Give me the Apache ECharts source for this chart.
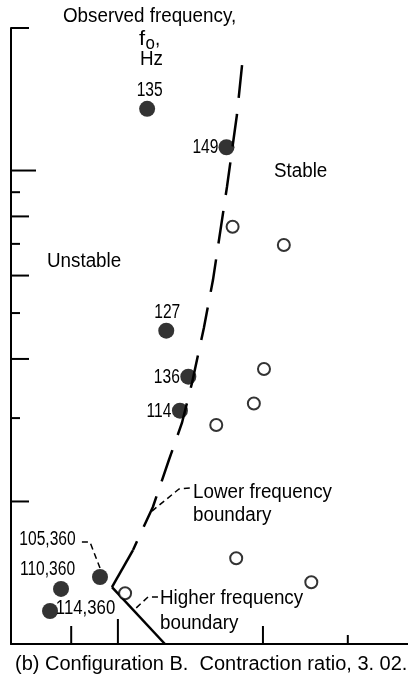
<!DOCTYPE html>
<html>
<head>
<meta charset="utf-8">
<script src="https://cdn.jsdelivr.net/npm/echarts@6/dist/echarts.min.js"></script>
<style>
html,body{margin:0;padding:0;background:#fff;}
#chart{width:408px;height:690px;}
</style>
</head>
<body>
<div id="chart"></div>
<script>
// ---- Data (log-log axes) ----
const xTicks = [8, 10, 20, 30];
const yTicks = [2, 3, 4, 5, 6, 7, 8, 9, 10, 20];

const unstableLabels = ['135', '149', '127', '136', '114', '105,360', '110,360', '114,360'];
const unstableX = [11.5, 16.8, 12.6, 14.0, 13.45, 9.18, 7.62, 7.23];
const unstableY = [13.5, 11.2, 4.59, 3.67, 3.11, 1.385, 1.307, 1.174];

const stableX = [17.3, 22.1, 20.1, 19.15, 16.0, 17.6, 25.2, 10.35];
const stableY = [7.61, 6.96, 3.81, 3.22, 2.90, 1.517, 1.35, 1.28];

const lowerBoundaryX = [18.1, 17.66, 16.84, 15.75, 15.08, 14.25, 13.58, 12.76, 11.82, 11.11, 10.75, 9.72];
const lowerBoundaryY = [16.7, 13.1, 9.23, 5.87, 4.65, 3.56, 2.93, 2.447, 1.947, 1.699, 1.579, 1.319];

const higherBoundaryX = [9.72, 12.52];
const higherBoundaryY = [1.319, 1.0];

const lowerLeaderX = [14.1, 13.39, 11.77];
const lowerLeaderY = [2.136, 2.125, 1.909];
const higherLeaderX = [12.11, 11.55, 10.8];
const higherLeaderY = [1.257, 1.257, 1.18];
const pointLeaderX = [8.42, 8.75, 9.18];
const pointLeaderY = [1.642, 1.642, 1.447];

// ---- helpers ----
const zip = (xs, ys) => xs.map((x, i) => [x, ys[i]]);
const X_MIN = 6, X_MAX = 40, Y_MIN = 1, Y_MAX = 20;
function tickLen(v) {
  const m = Math.round(v / Math.pow(10, Math.floor(Math.log10(v) + 1e-9)));
  if (m === 1) return 25;
  return m % 2 === 0 ? 18 : 9;
}
const FONT = "'Liberation Sans', Arial, sans-serif";

// label offsets relative to each dot centre (layout only)
const labelOffsets = [[2.5, -18], [-21, 0], [1, -18], [-21.5, 1], [-21, 1], [-52.5, -37], [-13.5, -19], [35.5, -2]];
const labelScale = [0.8, 0.8, 0.8, 0.8, 0.8, 0.8, 0.8, 0.86];

const chart = echarts.init(document.getElementById('chart'), null, {renderer: 'canvas'});

const lineBase = {type: 'line', symbol: 'none', silent: true, animation: false, clip: false};

function word(text, x, y, size, sx, extra) {
  return {
    type: 'text', x: x, y: y, scaleX: sx, silent: true,
    style: Object.assign({text: text, fontFamily: FONT, fontSize: size, fill: '#000',
      align: 'left', verticalAlign: 'top'}, extra || {})
  };
}

const option = {
  animation: false,
  backgroundColor: '#fff',
  grid: {left: 11, top: 28, right: 0, bottom: 46},
  xAxis: {
    type: 'log', logBase: 10, min: X_MIN, max: X_MAX,
    axisLine: {show: true, onZero: false, lineStyle: {color: '#000', width: 2}},
    axisTick: {show: false}, axisLabel: {show: false}, splitLine: {show: false}
  },
  yAxis: {
    type: 'log', logBase: 10, min: Y_MIN, max: Y_MAX,
    axisLine: {show: true, onZero: false, lineStyle: {color: '#000', width: 2}},
    axisTick: {show: false}, axisLabel: {show: false}, splitLine: {show: false}
  },
  series: [
    {
      type: 'custom', silent: true, clip: false,
      data: yTicks.map(v => [X_MIN, v]),
      renderItem: (params, api) => {
        const p = api.coord([api.value(0), api.value(1)]);
        const len = tickLen(api.value(1));
        return {type: 'line', shape: {x1: p[0], y1: p[1], x2: p[0] + len, y2: p[1]},
          style: {stroke: '#000', lineWidth: 2}};
      }
    },
    {
      type: 'custom', silent: true, clip: false,
      data: xTicks.map(v => [v, Y_MIN]),
      renderItem: (params, api) => {
        const p = api.coord([api.value(0), api.value(1)]);
        const len = tickLen(api.value(0));
        return {type: 'line', shape: {x1: p[0], y1: p[1], x2: p[0], y2: p[1] - len},
          style: {stroke: '#000', lineWidth: 2}};
      }
    },
    Object.assign({}, lineBase, {
      name: 'Lower frequency boundary',
      data: zip(lowerBoundaryX, lowerBoundaryY).slice(0, -1),
      lineStyle: {color: '#000', width: 2.5, type: [33, 16]}
    }),
    Object.assign({}, lineBase, {
      data: zip(lowerBoundaryX, lowerBoundaryY).slice(-2),
      lineStyle: {color: '#000', width: 2.5}
    }),
    Object.assign({}, lineBase, {
      name: 'Higher frequency boundary',
      data: zip(higherBoundaryX, higherBoundaryY),
      lineStyle: {color: '#000', width: 2.5}
    }),
    Object.assign({}, lineBase, {
      data: zip(lowerLeaderX, lowerLeaderY),
      lineStyle: {color: '#000', width: 1.5, type: [6, 4]}
    }),
    Object.assign({}, lineBase, {
      data: zip(higherLeaderX, higherLeaderY),
      lineStyle: {color: '#000', width: 1.5, type: [6, 4]}
    }),
    Object.assign({}, lineBase, {
      data: zip(pointLeaderX, pointLeaderY),
      lineStyle: {color: '#000', width: 1.5, type: [6, 4]}
    }),
    {
      type: 'scatter', name: 'Stable', silent: true, z: 5,
      symbol: 'circle', symbolSize: 12,
      itemStyle: {color: '#fff', borderColor: '#000', borderWidth: 2},
      data: zip(stableX, stableY)
    },
    {
      type: 'scatter', name: 'Unstable', silent: true, z: 6,
      symbol: 'circle', symbolSize: 16,
      itemStyle: {color: '#000'},
      data: zip(unstableX, unstableY)
    },
    {
      type: 'custom', name: 'Unstable labels', silent: true, clip: false, z: 7,
      data: zip(unstableX, unstableY),
      renderItem: (params, api) => {
        const p = api.coord([api.value(0), api.value(1)]);
        const off = labelOffsets[params.dataIndex];
        return {
          type: 'text', x: p[0] + off[0], y: p[1] + off[1], scaleX: labelScale[params.dataIndex],
          style: {text: unstableLabels[params.dataIndex], fontFamily: FONT, fontSize: 19.5,
            fill: '#000', align: 'center', verticalAlign: 'middle'}
        };
      }
    }
  ],
  graphic: [
    word('Observed frequency,', 63, 6, 20, 0.94),
    word('f', 139, 29, 20, 1.1),
    word('o', 145.5, 35, 18, 0.94),
    word(',', 155, 29, 20, 0.94),
    word('Hz', 140, 49, 20, 0.94),
    word('Stable', 274, 161, 20, 0.94),
    word('Unstable', 47, 251, 20, 0.94),
    word('Lower frequency\nboundary', 193, 481, 20, 0.94, {lineHeight: 23}),
    word('Higher frequency\nboundary', 160, 586, 20, 0.94, {lineHeight: 25}),
    word('(b) Configuration B.  Contraction ratio, 3. 02.', 15, 654, 20, 1)
  ]
};
chart.setOption(option);
</script>
</body>
</html>
